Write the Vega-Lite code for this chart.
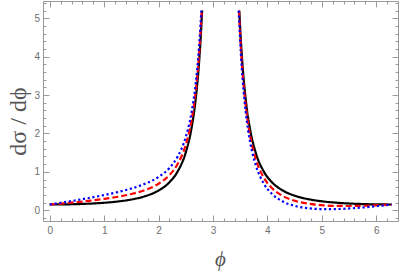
{
  "$schema": "https://vega.github.io/schema/vega-lite/v6.json",
  "width": 355,
  "height": 220,
  "autosize": {"type": "none"},
  "padding": {"left": 43, "top": 1, "right": 2, "bottom": 52},
  "background": "white",
  "config": {
    "view": {"stroke": null},
    "axis": {
      "grid": false,
      "domainColor": "#9a9a9a",
      "domainWidth": 1,
      "tickColor": "#9a9a9a",
      "tickWidth": 1,
      "labelColor": "#6e6e6e",
      "labelFont": "Liberation Sans",
      "labelFontSize": 10,
      "titleColor": "#555555",
      "titleFont": "Liberation Serif",
      "titleFontWeight": "normal"
    }
  },
  "data": {
    "values": [
      {"s": "A", "phi": 0, "v": 0.15},
      {"s": "A", "phi": 0.25, "v": 0.1524},
      {"s": "A", "phi": 0.5, "v": 0.1598},
      {"s": "A", "phi": 0.75, "v": 0.1732},
      {"s": "A", "phi": 1.0, "v": 0.1948},
      {"s": "A", "phi": 1.25, "v": 0.2281},
      {"s": "A", "phi": 1.5, "v": 0.2802},
      {"s": "A", "phi": 1.75, "v": 0.3651},
      {"s": "A", "phi": 2.0, "v": 0.5138},
      {"s": "A", "phi": 2.2, "v": 0.729},
      {"s": "A", "phi": 2.35, "v": 1.0091},
      {"s": "A", "phi": 2.5, "v": 1.5086},
      {"s": "A", "phi": 2.6, "v": 2.0963},
      {"s": "A", "phi": 2.68, "v": 2.8664},
      {"s": "A", "phi": 2.74, "v": 3.7703},
      {"s": "A", "phi": 2.77, "v": 4.3951},
      {"s": "A", "phi": 2.8, "v": 5.2},
      {"s": "A2", "phi": 3.4832, "v": 5.2},
      {"s": "A2", "phi": 3.5132, "v": 4.3951},
      {"s": "A2", "phi": 3.5432, "v": 3.7703},
      {"s": "A2", "phi": 3.6032, "v": 2.8664},
      {"s": "A2", "phi": 3.6832, "v": 2.0963},
      {"s": "A2", "phi": 3.7832, "v": 1.5086},
      {"s": "A2", "phi": 3.9332, "v": 1.0091},
      {"s": "A2", "phi": 4.0832, "v": 0.729},
      {"s": "A2", "phi": 4.2832, "v": 0.5138},
      {"s": "A2", "phi": 4.5332, "v": 0.3651},
      {"s": "A2", "phi": 4.7832, "v": 0.2802},
      {"s": "A2", "phi": 5.0332, "v": 0.2281},
      {"s": "A2", "phi": 5.2832, "v": 0.1948},
      {"s": "A2", "phi": 5.5332, "v": 0.1732},
      {"s": "A2", "phi": 5.7832, "v": 0.1598},
      {"s": "A2", "phi": 6.0332, "v": 0.1524},
      {"s": "A2", "phi": 6.2832, "v": 0.15},
      {"s": "B", "phi": 0, "v": 0.15},
      {"s": "B", "phi": 0.25, "v": 0.1786},
      {"s": "B", "phi": 0.5, "v": 0.2118},
      {"s": "B", "phi": 0.75, "v": 0.2501},
      {"s": "B", "phi": 1.0, "v": 0.2955},
      {"s": "B", "phi": 1.25, "v": 0.351},
      {"s": "B", "phi": 1.5, "v": 0.4233},
      {"s": "B", "phi": 1.75, "v": 0.5263},
      {"s": "B", "phi": 2.0, "v": 0.6905},
      {"s": "B", "phi": 2.2, "v": 0.9162},
      {"s": "B", "phi": 2.35, "v": 1.2029},
      {"s": "B", "phi": 2.5, "v": 1.7079},
      {"s": "B", "phi": 2.6, "v": 2.2987},
      {"s": "B", "phi": 2.68, "v": 3.0708},
      {"s": "B", "phi": 2.74, "v": 3.9761},
      {"s": "B", "phi": 2.77, "v": 4.6015},
      {"s": "B", "phi": 2.7932, "v": 5.2},
      {"s": "B2", "phi": 3.4775, "v": 5.2},
      {"s": "B2", "phi": 3.5132, "v": 4.228},
      {"s": "B2", "phi": 3.5432, "v": 3.6037},
      {"s": "B2", "phi": 3.6032, "v": 2.7009},
      {"s": "B2", "phi": 3.6832, "v": 1.9325},
      {"s": "B2", "phi": 3.7832, "v": 1.3473},
      {"s": "B2", "phi": 3.9332, "v": 0.8522},
      {"s": "B2", "phi": 4.0832, "v": 0.5775},
      {"s": "B2", "phi": 4.2832, "v": 0.3707},
      {"s": "B2", "phi": 4.5332, "v": 0.2346},
      {"s": "B2", "phi": 4.7832, "v": 0.1643},
      {"s": "B2", "phi": 5.0332, "v": 0.1286},
      {"s": "B2", "phi": 5.2832, "v": 0.1133},
      {"s": "B2", "phi": 5.5332, "v": 0.1109},
      {"s": "B2", "phi": 5.7832, "v": 0.1177},
      {"s": "B2", "phi": 6.0332, "v": 0.1312},
      {"s": "B2", "phi": 6.2832, "v": 0.15},
      {"s": "C", "phi": 0, "v": 0.15},
      {"s": "C", "phi": 0.25, "v": 0.2048},
      {"s": "C", "phi": 0.5, "v": 0.2637},
      {"s": "C", "phi": 0.75, "v": 0.327},
      {"s": "C", "phi": 1.0, "v": 0.3961},
      {"s": "C", "phi": 1.25, "v": 0.4738},
      {"s": "C", "phi": 1.5, "v": 0.5665},
      {"s": "C", "phi": 1.75, "v": 0.6875},
      {"s": "C", "phi": 2.0, "v": 0.8672},
      {"s": "C", "phi": 2.2, "v": 1.1033},
      {"s": "C", "phi": 2.35, "v": 1.3966},
      {"s": "C", "phi": 2.5, "v": 1.9072},
      {"s": "C", "phi": 2.6, "v": 2.501},
      {"s": "C", "phi": 2.68, "v": 3.2753},
      {"s": "C", "phi": 2.74, "v": 4.1819},
      {"s": "C", "phi": 2.77, "v": 4.8079},
      {"s": "C", "phi": 2.7857, "v": 5.2},
      {"s": "C2", "phi": 3.4723, "v": 5.2},
      {"s": "C2", "phi": 3.5132, "v": 4.0609},
      {"s": "C2", "phi": 3.5432, "v": 3.4371},
      {"s": "C2", "phi": 3.6032, "v": 2.5354},
      {"s": "C2", "phi": 3.6832, "v": 1.7687},
      {"s": "C2", "phi": 3.7832, "v": 1.1859},
      {"s": "C2", "phi": 3.9332, "v": 0.6954},
      {"s": "C2", "phi": 4.0832, "v": 0.426},
      {"s": "C2", "phi": 4.2832, "v": 0.2277},
      {"s": "C2", "phi": 4.5332, "v": 0.1041},
      {"s": "C2", "phi": 4.7832, "v": 0.0485},
      {"s": "C2", "phi": 5.0332, "v": 0.0292},
      {"s": "C2", "phi": 5.2832, "v": 0.0318},
      {"s": "C2", "phi": 5.5332, "v": 0.0487},
      {"s": "C2", "phi": 5.7832, "v": 0.0757},
      {"s": "C2", "phi": 6.0332, "v": 0.11},
      {"s": "C2", "phi": 6.2832, "v": 0.15}
    ]
  },
  "layer": [
    {
      "mark": {"type": "line", "strokeWidth": 2.2, "interpolate": "monotone", "strokeCap": "butt"},
      "encoding": {
        "x": {
          "field": "phi", "type": "quantitative",
          "scale": {"domain": [-0.124, 6.4], "nice": false, "zero": false},
          "axis": {
            "orient": "bottom",
            "title": "ϕ",
            "titleFontStyle": "italic",
            "titleFontSize": 21,
            "titleX": 177,
            "titleY": 38,
            "titleAlign": "center",
            "titleBaseline": "middle",
            "values": [0,0.2,0.4,0.6,0.8,1,1.2,1.4,1.6,1.8,2,2.2,2.4,2.6,2.8,3,3.2,3.4,3.6,3.8,4,4.2,4.4,4.6,4.8,5,5.2,5.4,5.6,5.8,6,6.2],
            "labelExpr": "abs(datum.value - round(datum.value)) < 0.001 ? format(datum.value, 'd') : ''",
            "tickSize": {"condition": {"test": "abs(datum.value - round(datum.value)) < 0.001", "value": -6}, "value": -3},
            "labelPadding": 10.5,
            "labelBaseline": "top",
            "labelAlign": "center",
            "labelFlush": false,
            "labelOverlap": false
          }
        },
        "y": {
          "field": "v", "type": "quantitative",
          "scale": {"domain": [-0.28, 5.45], "nice": false, "zero": false},
          "axis": {
            "orient": "left",
            "title": "dσ / dϕ",
            "titleFontSize": 24,
            "titleAngle": -90,
            "titleX": -25,
            "titleY": 120,
            "titleAlign": "center",
            "titleBaseline": "middle",
            "values": [-0.2,0,0.2,0.4,0.6,0.8,1,1.2,1.4,1.6,1.8,2,2.2,2.4,2.6,2.8,3,3.2,3.4,3.6,3.8,4,4.2,4.4,4.6,4.8,5,5.2,5.4],
            "labelExpr": "abs(datum.value - round(datum.value)) < 0.001 ? format(datum.value, 'd') : ''",
            "tickSize": {"condition": {"test": "abs(datum.value - round(datum.value)) < 0.001", "value": -6}, "value": -3},
            "labelPadding": 9.5,
            "labelAlign": "right",
            "labelBaseline": "middle",
            "labelFlush": false,
            "labelOverlap": false
          }
        },
        "detail": {"field": "s"},
        "color": {
          "field": "s", "type": "nominal", "legend": null,
          "scale": {"domain": ["A","A2","B","B2","C","C2"], "range": ["#000000","#000000","#ff0000","#ff0000","#0000ff","#0000ff"]}
        },
        "strokeDash": {
          "field": "s", "type": "nominal", "legend": null,
          "scale": {"domain": ["A","A2","B","B2","C","C2"], "range": [[1,0],[1,0],[6,3],[6,3],[2.2,2.6],[2.2,2.6]]}
        }
      }
    },
    {
      "mark": {"type": "point", "opacity": 0},
      "encoding": {
        "x": {
          "field": "phi", "type": "quantitative",
          "axis": {
            "orient": "top", "title": null, "labels": false,
            "values": [0,0.2,0.4,0.6,0.8,1,1.2,1.4,1.6,1.8,2,2.2,2.4,2.6,2.8,3,3.2,3.4,3.6,3.8,4,4.2,4.4,4.6,4.8,5,5.2,5.4,5.6,5.8,6,6.2],
            "tickSize": {"condition": {"test": "abs(datum.value - round(datum.value)) < 0.001", "value": -6}, "value": -3}
          }
        },
        "y": {
          "field": "v", "type": "quantitative",
          "axis": {
            "orient": "right", "title": null, "labels": false,
            "values": [-0.2,0,0.2,0.4,0.6,0.8,1,1.2,1.4,1.6,1.8,2,2.2,2.4,2.6,2.8,3,3.2,3.4,3.6,3.8,4,4.2,4.4,4.6,4.8,5,5.2,5.4],
            "tickSize": {"condition": {"test": "abs(datum.value - round(datum.value)) < 0.001", "value": -6}, "value": -3}
          }
        }
      }
    }
  ]
}
